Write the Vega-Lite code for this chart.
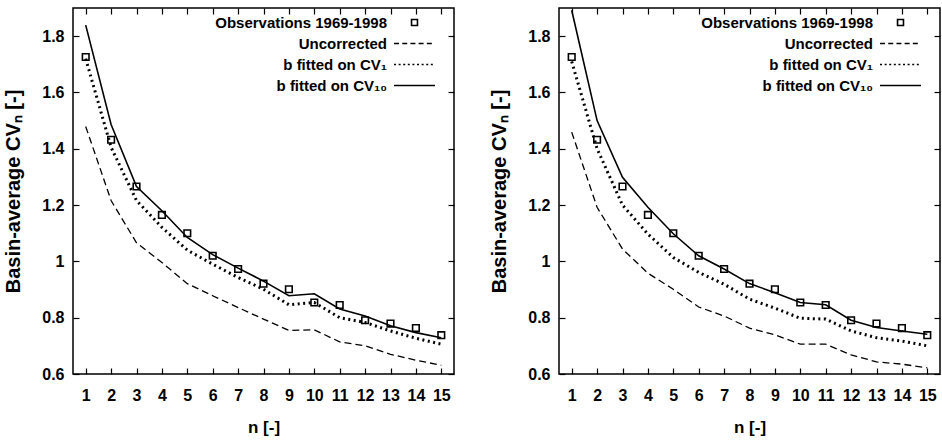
{
  "$schema": "https://vega.github.io/schema/vega-lite/v6.json",
  "padding": {"left": 3, "top": 6, "right": 0, "bottom": 0},
  "bounds": "flush",
  "spacing": 105,
  "background": "white",
  "config": {
    "view": {"stroke": "black", "strokeWidth": 1.5},
    "axis": {
      "grid": false,
      "domain": false,
      "tickColor": "black",
      "tickSize": -6,
      "tickWidth": 1.2,
      "labelFont": "Liberation Sans Narrow, Liberation Sans, sans-serif",
      "labelFontWeight": "bold",
      "labelFontSize": 16,
      "labelColor": "black",
      "titleColor": "black",
      "titleFontWeight": "bold"
    },
    "axisX": {"labelPadding": 19, "titleFont": "Liberation Sans Narrow, Liberation Sans, sans-serif", "titleFontSize": 17, "titlePadding": 16},
    "axisY": {"labelPadding": 15, "titleFont": "Liberation Sans, sans-serif", "titleFontSize": 20, "titlePadding": 18},
    "legend": {
      "orient": "none",
      "legendX": 334,
      "legendY": 7,
      "title": null,
      "labelFont": "Liberation Sans Narrow, Liberation Sans, sans-serif",
      "labelFontWeight": "bold",
      "labelFontSize": 15,
      "labelColor": "black",
      "labelAlign": "right",
      "labelOffset": -35,
      "labelLimit": 400,
      "symbolSize": 81,
      "symbolStrokeWidth": 1.6,
      "symbolStrokeColor": "black",
      "symbolFillColor": "transparent",
      "rowPadding": 5,
      "padding": 0
    }
  },
  "datasets": {
    "left": [
      {"n": 1, "series": "Observations 1969-1998", "v": 1.726}, {"n": 2, "series": "Observations 1969-1998", "v": 1.432}, {"n": 3, "series": "Observations 1969-1998", "v": 1.266}, {"n": 4, "series": "Observations 1969-1998", "v": 1.165}, {"n": 5, "series": "Observations 1969-1998", "v": 1.10}, {"n": 6, "series": "Observations 1969-1998", "v": 1.02}, {"n": 7, "series": "Observations 1969-1998", "v": 0.973}, {"n": 8, "series": "Observations 1969-1998", "v": 0.921}, {"n": 9, "series": "Observations 1969-1998", "v": 0.901}, {"n": 10, "series": "Observations 1969-1998", "v": 0.854}, {"n": 11, "series": "Observations 1969-1998", "v": 0.845}, {"n": 12, "series": "Observations 1969-1998", "v": 0.791}, {"n": 13, "series": "Observations 1969-1998", "v": 0.779}, {"n": 14, "series": "Observations 1969-1998", "v": 0.763}, {"n": 15, "series": "Observations 1969-1998", "v": 0.738},
      {"n": 1, "series": "Uncorrected", "v": 1.479}, {"n": 2, "series": "Uncorrected", "v": 1.216}, {"n": 3, "series": "Uncorrected", "v": 1.066}, {"n": 4, "series": "Uncorrected", "v": 0.996}, {"n": 5, "series": "Uncorrected", "v": 0.921}, {"n": 6, "series": "Uncorrected", "v": 0.878}, {"n": 7, "series": "Uncorrected", "v": 0.836}, {"n": 8, "series": "Uncorrected", "v": 0.795}, {"n": 9, "series": "Uncorrected", "v": 0.755}, {"n": 10, "series": "Uncorrected", "v": 0.757}, {"n": 11, "series": "Uncorrected", "v": 0.714}, {"n": 12, "series": "Uncorrected", "v": 0.70}, {"n": 13, "series": "Uncorrected", "v": 0.67}, {"n": 14, "series": "Uncorrected", "v": 0.649}, {"n": 15, "series": "Uncorrected", "v": 0.631},
      {"n": 1, "series": "b fitted on CV₁", "v": 1.72}, {"n": 2, "series": "b fitted on CV₁", "v": 1.405}, {"n": 3, "series": "b fitted on CV₁", "v": 1.216}, {"n": 4, "series": "b fitted on CV₁", "v": 1.121}, {"n": 5, "series": "b fitted on CV₁", "v": 1.04}, {"n": 6, "series": "b fitted on CV₁", "v": 0.99}, {"n": 7, "series": "b fitted on CV₁", "v": 0.943}, {"n": 8, "series": "b fitted on CV₁", "v": 0.901}, {"n": 9, "series": "b fitted on CV₁", "v": 0.846}, {"n": 10, "series": "b fitted on CV₁", "v": 0.854}, {"n": 11, "series": "b fitted on CV₁", "v": 0.80}, {"n": 12, "series": "b fitted on CV₁", "v": 0.783}, {"n": 13, "series": "b fitted on CV₁", "v": 0.753}, {"n": 14, "series": "b fitted on CV₁", "v": 0.727}, {"n": 15, "series": "b fitted on CV₁", "v": 0.706},
      {"n": 1, "series": "b fitted on CV₁₀", "v": 1.839}, {"n": 2, "series": "b fitted on CV₁₀", "v": 1.486}, {"n": 3, "series": "b fitted on CV₁₀", "v": 1.266}, {"n": 4, "series": "b fitted on CV₁₀", "v": 1.18}, {"n": 5, "series": "b fitted on CV₁₀", "v": 1.085}, {"n": 6, "series": "b fitted on CV₁₀", "v": 1.024}, {"n": 7, "series": "b fitted on CV₁₀", "v": 0.976}, {"n": 8, "series": "b fitted on CV₁₀", "v": 0.93}, {"n": 9, "series": "b fitted on CV₁₀", "v": 0.878}, {"n": 10, "series": "b fitted on CV₁₀", "v": 0.885}, {"n": 11, "series": "b fitted on CV₁₀", "v": 0.831}, {"n": 12, "series": "b fitted on CV₁₀", "v": 0.806}, {"n": 13, "series": "b fitted on CV₁₀", "v": 0.771}, {"n": 14, "series": "b fitted on CV₁₀", "v": 0.747}, {"n": 15, "series": "b fitted on CV₁₀", "v": 0.729}
    ],
    "right": [
      {"n": 1, "series": "Observations 1969-1998", "v": 1.726}, {"n": 2, "series": "Observations 1969-1998", "v": 1.432}, {"n": 3, "series": "Observations 1969-1998", "v": 1.266}, {"n": 4, "series": "Observations 1969-1998", "v": 1.165}, {"n": 5, "series": "Observations 1969-1998", "v": 1.10}, {"n": 6, "series": "Observations 1969-1998", "v": 1.02}, {"n": 7, "series": "Observations 1969-1998", "v": 0.973}, {"n": 8, "series": "Observations 1969-1998", "v": 0.921}, {"n": 9, "series": "Observations 1969-1998", "v": 0.901}, {"n": 10, "series": "Observations 1969-1998", "v": 0.854}, {"n": 11, "series": "Observations 1969-1998", "v": 0.845}, {"n": 12, "series": "Observations 1969-1998", "v": 0.791}, {"n": 13, "series": "Observations 1969-1998", "v": 0.779}, {"n": 14, "series": "Observations 1969-1998", "v": 0.763}, {"n": 15, "series": "Observations 1969-1998", "v": 0.738},
      {"n": 1, "series": "Uncorrected", "v": 1.459}, {"n": 2, "series": "Uncorrected", "v": 1.192}, {"n": 3, "series": "Uncorrected", "v": 1.044}, {"n": 4, "series": "Uncorrected", "v": 0.958}, {"n": 5, "series": "Uncorrected", "v": 0.901}, {"n": 6, "series": "Uncorrected", "v": 0.838}, {"n": 7, "series": "Uncorrected", "v": 0.806}, {"n": 8, "series": "Uncorrected", "v": 0.763}, {"n": 9, "series": "Uncorrected", "v": 0.739}, {"n": 10, "series": "Uncorrected", "v": 0.706}, {"n": 11, "series": "Uncorrected", "v": 0.706}, {"n": 12, "series": "Uncorrected", "v": 0.668}, {"n": 13, "series": "Uncorrected", "v": 0.643}, {"n": 14, "series": "Uncorrected", "v": 0.635}, {"n": 15, "series": "Uncorrected", "v": 0.622},
      {"n": 1, "series": "b fitted on CV₁", "v": 1.71}, {"n": 2, "series": "b fitted on CV₁", "v": 1.40}, {"n": 3, "series": "b fitted on CV₁", "v": 1.20}, {"n": 4, "series": "b fitted on CV₁", "v": 1.097}, {"n": 5, "series": "b fitted on CV₁", "v": 1.014}, {"n": 6, "series": "b fitted on CV₁", "v": 0.961}, {"n": 7, "series": "b fitted on CV₁", "v": 0.919}, {"n": 8, "series": "b fitted on CV₁", "v": 0.866}, {"n": 9, "series": "b fitted on CV₁", "v": 0.834}, {"n": 10, "series": "b fitted on CV₁", "v": 0.798}, {"n": 11, "series": "b fitted on CV₁", "v": 0.795}, {"n": 12, "series": "b fitted on CV₁", "v": 0.753}, {"n": 13, "series": "b fitted on CV₁", "v": 0.729}, {"n": 14, "series": "b fitted on CV₁", "v": 0.717}, {"n": 15, "series": "b fitted on CV₁", "v": 0.70},
      {"n": 1, "series": "b fitted on CV₁₀", "v": 1.892}, {"n": 2, "series": "b fitted on CV₁₀", "v": 1.50}, {"n": 3, "series": "b fitted on CV₁₀", "v": 1.299}, {"n": 4, "series": "b fitted on CV₁₀", "v": 1.192}, {"n": 5, "series": "b fitted on CV₁₀", "v": 1.098}, {"n": 6, "series": "b fitted on CV₁₀", "v": 1.02}, {"n": 7, "series": "b fitted on CV₁₀", "v": 0.973}, {"n": 8, "series": "b fitted on CV₁₀", "v": 0.921}, {"n": 9, "series": "b fitted on CV₁₀", "v": 0.889}, {"n": 10, "series": "b fitted on CV₁₀", "v": 0.854}, {"n": 11, "series": "b fitted on CV₁₀", "v": 0.846}, {"n": 12, "series": "b fitted on CV₁₀", "v": 0.791}, {"n": 13, "series": "b fitted on CV₁₀", "v": 0.765}, {"n": 14, "series": "b fitted on CV₁₀", "v": 0.753}, {"n": 15, "series": "b fitted on CV₁₀", "v": 0.741}
    ]
  },
  "hconcat": [
    {
      "width": 381,
      "height": 366,
      "data": {"name": "left"},
      "resolve": {"axis": {"x": "independent", "y": "independent"}},
      "layer": [
        {
          "transform": [{"filter": "datum.series === 'Uncorrected'"}],
          "mark": {"type": "line", "color": "black", "strokeWidth": 1.3, "strokeDash": [7, 4], "strokeCap": "butt", "clip": true},
          "encoding": {
            "x": {"field": "n", "type": "quantitative", "scale": {"domain": [0.5, 15.5], "nice": false, "zero": false}, "axis": {"values": [1,2,3,4,5,6,7,8,9,10,11,12,13,14,15], "title": "n [-]"}},
            "y": {"field": "v", "type": "quantitative", "scale": {"domain": [0.6, 1.9], "nice": false, "zero": false}, "axis": {"values": [0.6, 0.8, 1, 1.2, 1.4, 1.6, 1.8], "format": "~g", "title": "Basin-average CVₙ [-]"}},
            "order": {"field": "n", "type": "quantitative"}
          }
        },
        {
          "transform": [{"filter": "datum.series === 'b fitted on CV₁'"}],
          "mark": {"type": "line", "color": "black", "strokeWidth": 3, "strokeDash": [2, 3.5], "strokeCap": "butt", "clip": true},
          "encoding": {
            "x": {"field": "n", "type": "quantitative", "scale": {"domain": [0.5, 15.5], "nice": false, "zero": false}, "axis": null},
            "y": {"field": "v", "type": "quantitative", "scale": {"domain": [0.6, 1.9], "nice": false, "zero": false}, "axis": null},
            "order": {"field": "n", "type": "quantitative"}
          }
        },
        {
          "transform": [{"filter": "datum.series === 'b fitted on CV₁₀'"}],
          "mark": {"type": "line", "color": "black", "strokeWidth": 1.6, "clip": true},
          "encoding": {
            "x": {"field": "n", "type": "quantitative", "scale": {"domain": [0.5, 15.5], "nice": false, "zero": false}, "axis": null},
            "y": {"field": "v", "type": "quantitative", "scale": {"domain": [0.6, 1.9], "nice": false, "zero": false}, "axis": null},
            "order": {"field": "n", "type": "quantitative"}
          }
        },
        {
          "transform": [{"filter": "datum.series === 'Observations 1969-1998'"}],
          "mark": {"type": "point", "filled": false, "color": "black", "strokeWidth": 1.6, "size": 100, "opacity": 1},
          "encoding": {
            "x": {"field": "n", "type": "quantitative", "scale": {"domain": [0.5, 15.5], "nice": false, "zero": false}, "axis": {"orient": "top", "values": [1,2,3,4,5,6,7,8,9,10,11,12,13,14,15], "labels": false, "title": null}},
            "y": {"field": "v", "type": "quantitative", "scale": {"domain": [0.6, 1.9], "nice": false, "zero": false}, "axis": {"orient": "right", "values": [0.6, 0.8, 1, 1.2, 1.4, 1.6, 1.8], "labels": false, "title": null}},
            "shape": {"field": "series", "type": "nominal", "scale": {"domain": ["Observations 1969-1998", "Uncorrected", "b fitted on CV₁", "b fitted on CV₁₀"], "range": ["M-0.66,-0.66H0.66V0.66H-0.66Z", "M-4.55,0H4.55", "M-4.55,0H4.55", "M-4.55,0H4.55"]}, "legend": {}},
            "strokeDash": {"field": "series", "type": "nominal", "scale": {"domain": ["Observations 1969-1998", "Uncorrected", "b fitted on CV₁", "b fitted on CV₁₀"], "range": [[1, 0], [5, 3.2], [2, 2.6], [1, 0]]}, "legend": {}}
          }
        }
      ]
    },
    {
      "width": 381,
      "height": 366,
      "data": {"name": "right"},
      "resolve": {"axis": {"x": "independent", "y": "independent"}},
      "layer": [
        {
          "transform": [{"filter": "datum.series === 'Uncorrected'"}],
          "mark": {"type": "line", "color": "black", "strokeWidth": 1.3, "strokeDash": [7, 4], "strokeCap": "butt", "clip": true},
          "encoding": {
            "x": {"field": "n", "type": "quantitative", "scale": {"domain": [0.5, 15.5], "nice": false, "zero": false}, "axis": {"values": [1,2,3,4,5,6,7,8,9,10,11,12,13,14,15], "title": "n [-]"}},
            "y": {"field": "v", "type": "quantitative", "scale": {"domain": [0.6, 1.9], "nice": false, "zero": false}, "axis": {"values": [0.6, 0.8, 1, 1.2, 1.4, 1.6, 1.8], "format": "~g", "title": "Basin-average CVₙ [-]"}},
            "order": {"field": "n", "type": "quantitative"}
          }
        },
        {
          "transform": [{"filter": "datum.series === 'b fitted on CV₁'"}],
          "mark": {"type": "line", "color": "black", "strokeWidth": 3, "strokeDash": [2, 3.5], "strokeCap": "butt", "clip": true},
          "encoding": {
            "x": {"field": "n", "type": "quantitative", "scale": {"domain": [0.5, 15.5], "nice": false, "zero": false}, "axis": null},
            "y": {"field": "v", "type": "quantitative", "scale": {"domain": [0.6, 1.9], "nice": false, "zero": false}, "axis": null},
            "order": {"field": "n", "type": "quantitative"}
          }
        },
        {
          "transform": [{"filter": "datum.series === 'b fitted on CV₁₀'"}],
          "mark": {"type": "line", "color": "black", "strokeWidth": 1.6, "clip": true},
          "encoding": {
            "x": {"field": "n", "type": "quantitative", "scale": {"domain": [0.5, 15.5], "nice": false, "zero": false}, "axis": null},
            "y": {"field": "v", "type": "quantitative", "scale": {"domain": [0.6, 1.9], "nice": false, "zero": false}, "axis": null},
            "order": {"field": "n", "type": "quantitative"}
          }
        },
        {
          "transform": [{"filter": "datum.series === 'Observations 1969-1998'"}],
          "mark": {"type": "point", "filled": false, "color": "black", "strokeWidth": 1.6, "size": 100, "opacity": 1},
          "encoding": {
            "x": {"field": "n", "type": "quantitative", "scale": {"domain": [0.5, 15.5], "nice": false, "zero": false}, "axis": {"orient": "top", "values": [1,2,3,4,5,6,7,8,9,10,11,12,13,14,15], "labels": false, "title": null}},
            "y": {"field": "v", "type": "quantitative", "scale": {"domain": [0.6, 1.9], "nice": false, "zero": false}, "axis": {"orient": "right", "values": [0.6, 0.8, 1, 1.2, 1.4, 1.6, 1.8], "labels": false, "title": null}},
            "shape": {"field": "series", "type": "nominal", "scale": {"domain": ["Observations 1969-1998", "Uncorrected", "b fitted on CV₁", "b fitted on CV₁₀"], "range": ["M-0.66,-0.66H0.66V0.66H-0.66Z", "M-4.55,0H4.55", "M-4.55,0H4.55", "M-4.55,0H4.55"]}, "legend": {}},
            "strokeDash": {"field": "series", "type": "nominal", "scale": {"domain": ["Observations 1969-1998", "Uncorrected", "b fitted on CV₁", "b fitted on CV₁₀"], "range": [[1, 0], [5, 3.2], [2, 2.6], [1, 0]]}, "legend": {}}
          }
        }
      ]
    }
  ],
  "resolve": {"scale": {"shape": "independent", "strokeDash": "independent"}, "legend": {"shape": "independent", "strokeDash": "independent"}}
}
